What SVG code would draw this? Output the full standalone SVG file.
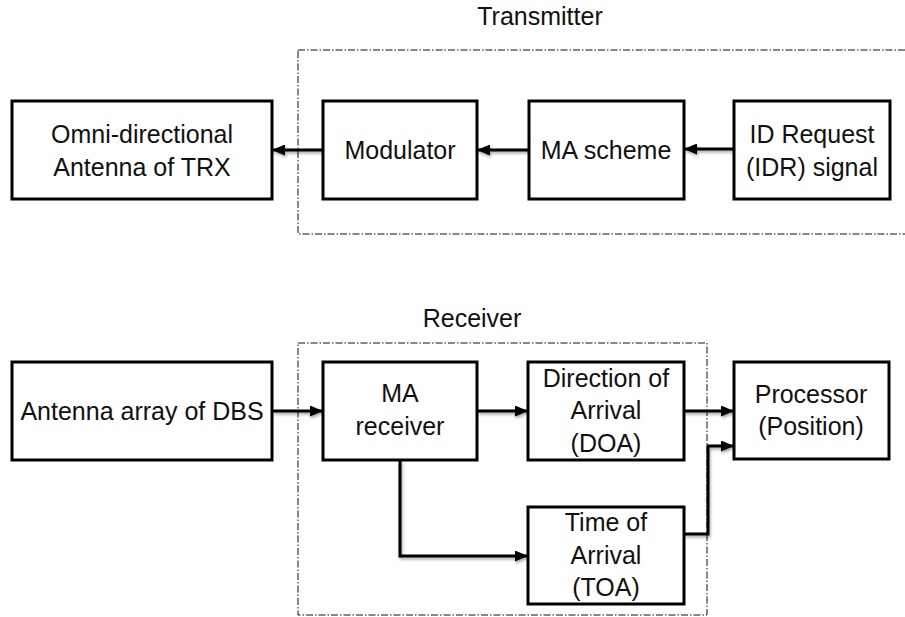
<svg xmlns="http://www.w3.org/2000/svg" width="905" height="617" viewBox="0 0 905 617">
  <style>
    .box { fill: #ffffff; stroke: #000000; stroke-width: 3; }
    .lbl { font-family: "Liberation Sans", Arial, sans-serif; font-size: 25px; fill: #111111; text-anchor: middle; }
    .frame { fill: none; stroke: #111111; stroke-width: 1; stroke-dasharray: 7 2 1.5 2; }
    .wire { fill: none; stroke: #000000; stroke-width: 3; }
  </style>
  <defs>
    <marker id="head" markerUnits="userSpaceOnUse" markerWidth="13" markerHeight="11" refX="12" refY="5.5" orient="auto">
      <path d="M0,0 L13,5.5 L0,11 Z" fill="#000000"/>
    </marker>
    <filter id="soft" x="-10%" y="-50%" width="120%" height="300%">
      <feDropShadow dx="1" dy="2" stdDeviation="1.5" flood-color="#000000" flood-opacity="0.35"/>
    </filter>
  </defs>
  <rect width="905" height="617" fill="#ffffff"/>

  <!-- section frames -->
  <g id="transmitter-frame">
    <rect class="frame" x="298" y="50" width="620" height="184"/>
    <text class="lbl" x="540" y="25">Transmitter</text>
  </g>
  <g id="receiver-frame">
    <rect class="frame" x="298" y="343" width="409" height="272"/>
    <text class="lbl" x="472" y="327">Receiver</text>
  </g>

  <!-- connectors -->
  <g id="connectors" filter="url(#soft)">
    <line class="wire" x1="323" y1="150" x2="273" y2="150" marker-end="url(#head)"/>
    <line class="wire" x1="529" y1="150" x2="478" y2="150" marker-end="url(#head)"/>
    <line class="wire" x1="734" y1="149" x2="685" y2="149" marker-end="url(#head)"/>
    <line class="wire" x1="272" y1="411" x2="322" y2="411" marker-end="url(#head)"/>
    <line class="wire" x1="477" y1="411" x2="527" y2="411" marker-end="url(#head)"/>
    <polyline class="wire" points="400,460 400,556 527,556" marker-end="url(#head)"/>
    <line class="wire" x1="684" y1="411" x2="733" y2="411" marker-end="url(#head)"/>
    <polyline class="wire" points="684,534 708,534 708,446 733,446" marker-end="url(#head)"/>
  </g>

  <!-- transmitter chain -->
  <g id="omni-antenna">
    <rect class="box" x="12" y="101" width="260" height="98"/>
    <text class="lbl" x="142" y="143">Omni-directional</text>
    <text class="lbl" x="142" y="176">Antenna of TRX</text>
  </g>
  <g id="modulator">
    <rect class="box" x="323" y="101" width="154" height="98"/>
    <text class="lbl" x="400" y="159">Modulator</text>
  </g>
  <g id="ma-scheme">
    <rect class="box" x="529" y="101" width="155" height="98"/>
    <text class="lbl" x="606" y="159">MA scheme</text>
  </g>
  <g id="idr-signal">
    <rect class="box" x="734" y="101" width="156" height="98"/>
    <text class="lbl" x="812" y="143">ID Request</text>
    <text class="lbl" x="812" y="176">(IDR) signal</text>
  </g>

  <!-- receiver chain -->
  <g id="antenna-array">
    <rect class="box" x="12" y="362" width="260" height="98"/>
    <text class="lbl" x="142" y="420">Antenna array of DBS</text>
  </g>
  <g id="ma-receiver">
    <rect class="box" x="323" y="362" width="154" height="98"/>
    <text class="lbl" x="400" y="402">MA</text>
    <text class="lbl" x="400" y="435">receiver</text>
  </g>
  <g id="doa">
    <rect class="box" x="528" y="362" width="156" height="98"/>
    <text class="lbl" x="606" y="387">Direction of</text>
    <text class="lbl" x="606" y="419">Arrival</text>
    <text class="lbl" x="606" y="452">(DOA)</text>
  </g>
  <g id="toa">
    <rect class="box" x="528" y="507" width="156" height="97"/>
    <text class="lbl" x="606" y="531">Time of</text>
    <text class="lbl" x="606" y="564">Arrival</text>
    <text class="lbl" x="606" y="596">(TOA)</text>
  </g>
  <g id="processor">
    <rect class="box" x="734" y="362" width="155" height="97"/>
    <text class="lbl" x="811" y="403">Processor</text>
    <text class="lbl" x="811" y="435">(Position)</text>
  </g>
</svg>
